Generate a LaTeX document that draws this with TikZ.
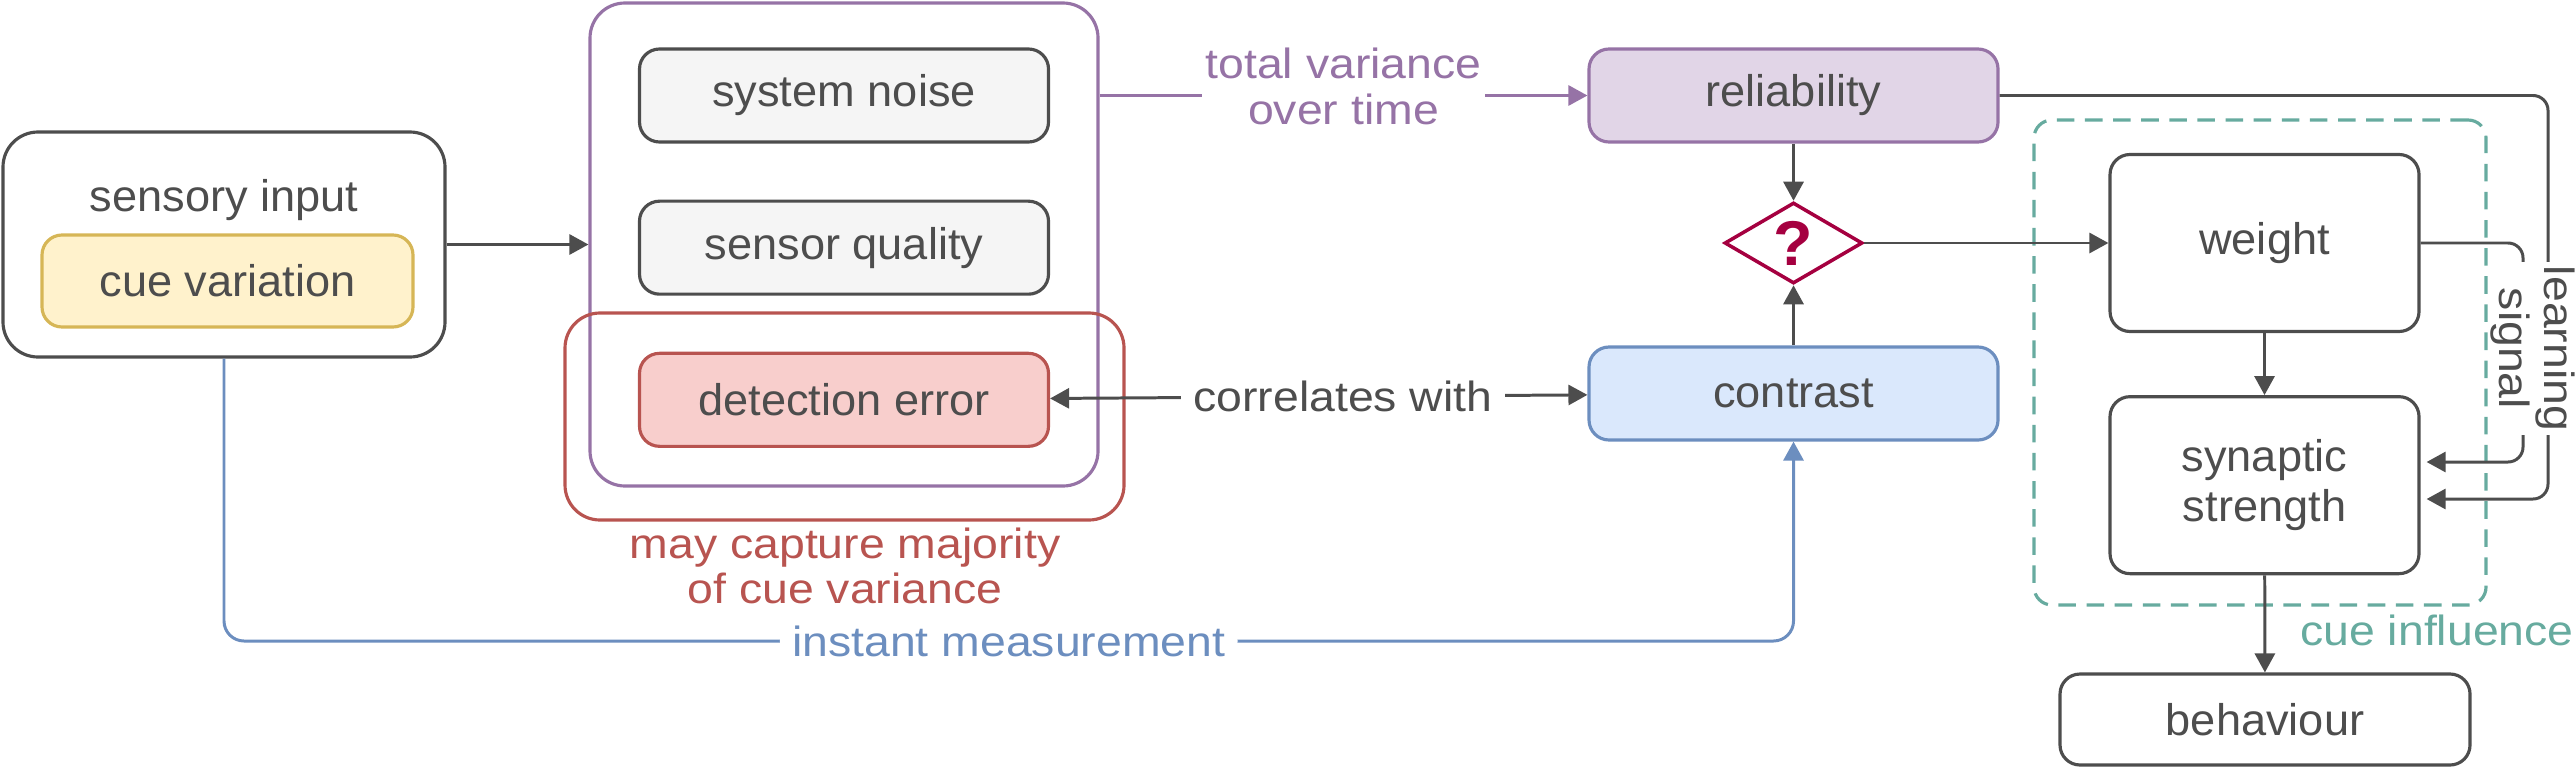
\documentclass[tikz,border=0pt]{standalone}
\usepackage{fontspec}
\setmainfont{Liberation Sans}[FakeStretch=1.02]
\newfontfamily\edgefont{Liberation Sans}[FakeStretch=1.1]
\usetikzlibrary{arrows.meta, positioning, shapes.geometric}

\definecolor{ink}{HTML}{4D4D4D}
\definecolor{purpleline}{HTML}{9673A6}
\definecolor{purplefill}{HTML}{E1D5E7}
\definecolor{redline}{HTML}{B85450}
\definecolor{redfill}{HTML}{F8CECC}
\definecolor{blueline}{HTML}{6C8EBF}
\definecolor{bluefill}{HTML}{DAE8FC}
\definecolor{yellowline}{HTML}{D6B656}
\definecolor{yellowfill}{HTML}{FFF2CC}
\definecolor{greyfill}{HTML}{F5F5F5}
\definecolor{tealline}{HTML}{67AB9F}
\definecolor{decision}{HTML}{A50040}

\begin{document}
\begin{tikzpicture}[
    font=\fontsize{12.6}{14.2}\selectfont,
    box/.style={rectangle, rounded corners=0.2cm, draw=ink, line width=0.9pt, text=ink, align=center, minimum width=4.09cm, minimum height=0.93cm, inner sep=0pt},
    group/.style={rectangle, rounded corners=0.35cm, line width=0.9pt, inner sep=0pt},
    edgelabel/.style={font=\edgefont\fontsize{12}{13}\selectfont, text=ink, align=center, fill=white, inner xsep=3.5pt, inner ysep=1pt},
    arrow/.style={-{Triangle[length=0.19cm, width=0.2cm]}, draw=ink, line width=0.85pt},
    twoway/.style={arrow, {Triangle[length=0.19cm, width=0.2cm]}-{Triangle[length=0.19cm, width=0.2cm]}}
]
\useasboundingbox (0,0) rectangle (25.76,-7.68);

% input
\node[group, draw=ink, minimum width=4.42cm, minimum height=2.25cm] (sensory) at (2.24,-2.445) {};
\node[text=ink] (sensorytitle) at (2.24,-2.0) {sensory input};
\node[box, draw=yellowline, fill=yellowfill, minimum width=3.71cm, minimum height=0.92cm] (cue) at (2.275,-2.81) {cue variation};

% sources of variance
\node[group, draw=purpleline, minimum width=5.08cm, minimum height=4.83cm] (variance) at (8.44,-2.445) {};
\node[box, fill=greyfill] (noise) at (8.44,-0.955) {system noise};
\node[box, fill=greyfill, below=0.56cm of noise] (quality) {sensor quality};
\node[box, draw=redline, fill=redfill, below=0.56cm of quality] (detection) {detection error};
\node[group, draw=redline, minimum width=5.59cm, minimum height=2.07cm] (capture) at (8.445,-4.165) {};
\node[edgelabel, text=redline, fill=none] (capturelabel) at (8.45,-5.66) {may capture majority\\of cue variance};

% estimate
\node[box, draw=purpleline, fill=purplefill] (reliability) at (17.935,-0.955) {reliability};
\node[diamond, aspect=1.7, draw=decision, line width=1pt, minimum width=1.38cm, minimum height=0.81cm, inner sep=0pt, text=decision, font=\bfseries\fontsize{18}{20}\selectfont] (decide) at (17.935,-2.43) {?};
\node[box, draw=blueline, fill=bluefill] (contrast) at (17.935,-3.935) {contrast};

% cue influence
\node[rectangle, rounded corners=0.18cm, draw=tealline, dash pattern=on 5pt off 3pt, line width=0.9pt, minimum width=4.52cm, minimum height=4.85cm] (cuebox) at (22.6,-3.625) {};
\node[box, minimum width=3.09cm, minimum height=1.77cm] (weight) at (22.645,-2.43) {weight};
\node[box, minimum width=3.09cm, minimum height=1.77cm, below=0.62cm of weight] (synaptic) {synaptic\\strength};
\node[box, minimum width=4.1cm, minimum height=0.91cm] (behaviour) at (22.65,-7.195) {behaviour};
\node[edgelabel, text=tealline, fill=none] (cuelabel) at (24.37,-6.305) {cue influence};

% connectors
\coordinate (measure) at (0,-6.41);
\coordinate (learnturn) at (25.48,-4.99);
\coordinate (signalturn) at (25.23,-4.62);

\draw[arrow] (sensory) -- (variance);
\draw[arrow, draw=purpleline] (variance.east |- noise.center) -- node[edgelabel, text=purpleline, inner xsep=1pt, yshift=0.09cm] {total variance\\over time} (reliability.west);
\draw[twoway] (detection) -- node[edgelabel, pos=0.545] {correlates with} (contrast);
\draw[arrow, draw=blueline, rounded corners=0.2cm] (sensory.south) |- node[edgelabel, pos=0.75, text=blueline] {instant measurement} (contrast.south |- measure) -- (contrast.south);
\draw[arrow] (reliability) -- (decide);
\draw[arrow] (contrast) -- (decide);
\draw[arrow] (decide) -- (weight);
\draw[arrow] (weight) -- (synaptic);
\draw[arrow] (synaptic) -- (behaviour);
\draw[arrow, rounded corners=0.15cm, shorten >=0.06cm] (reliability.east) -| (learnturn) -- (synaptic.east |- learnturn);
\draw[arrow, rounded corners=0.15cm, shorten >=0.06cm] (weight.east) -| (signalturn) -- (synaptic.east |- signalturn);
\node[edgelabel, rotate=-90, inner xsep=1pt, inner ysep=0pt] (learnlabel) at (25.33,-3.485) {learning\\signal};

\end{tikzpicture}
\end{document}
